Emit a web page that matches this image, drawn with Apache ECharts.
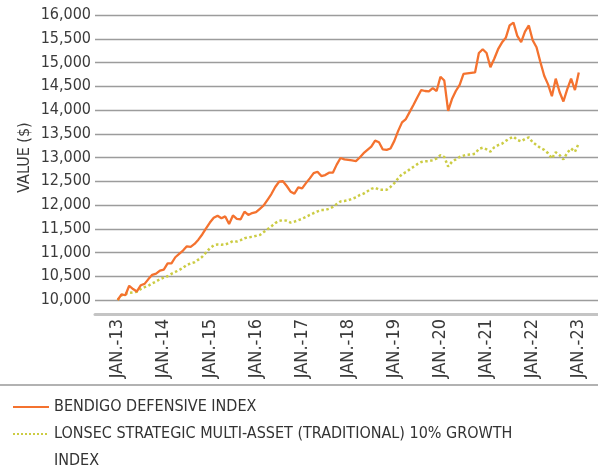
<!DOCTYPE html>
<html>
<head>
<meta charset="utf-8">
<script src="https://cdn.jsdelivr.net/npm/echarts@6/dist/echarts.min.js"></script>
<style>
  html, body { margin: 0; padding: 0; background: #fff; }
  #main { width: 598px; height: 470px; }
</style>
</head>
<body>
<div id="main"></div>
<script>
// monthly values, Jan 2013 .. Jan 2023 (index 0..120)
var bendigo = [
  10000, 10120, 10100, 10300, 10230, 10180, 10310, 10340, 10440, 10530, 10555, 10620,
  10640, 10770, 10770, 10900, 10970, 11040, 11130, 11120, 11180, 11270, 11380, 11510,
  11630, 11730, 11775, 11720, 11760, 11600, 11780, 11710, 11700, 11860, 11790, 11830,
  11850, 11920, 11990, 12110, 12230, 12380, 12490, 12500, 12400, 12280, 12240, 12370,
  12350, 12460, 12560, 12670, 12700, 12610, 12630, 12680, 12680, 12850, 12990, 12960,
  12950, 12940, 12925, 13000, 13090, 13160, 13230, 13355, 13320, 13170, 13160, 13190,
  13350, 13560, 13740, 13810, 13960, 14110, 14270, 14420, 14400, 14390, 14460, 14400,
  14700, 14620, 13980, 14230, 14400, 14530, 14760, 14770, 14780, 14790, 15200, 15280,
  15200, 14900, 15080, 15280, 15420, 15520, 15780, 15840, 15560, 15430, 15650, 15780,
  15470, 15320, 15010, 14720, 14540, 14290, 14660, 14380, 14180, 14440, 14660, 14420,
  14790
];
var lonsec = [
  10000, 10100, 10130, 10150, 10160, 10175, 10230, 10270, 10300, 10350, 10390, 10440,
  10470, 10500, 10550, 10590, 10630, 10680, 10740, 10770, 10795, 10850, 10910, 11000,
  11090, 11150, 11170, 11165, 11170, 11200, 11240, 11230, 11260, 11300, 11320, 11330,
  11350, 11370, 11430, 11490, 11550, 11620, 11665, 11680, 11670, 11630, 11650, 11680,
  11710, 11750, 11790, 11830, 11865, 11895, 11895, 11920, 11960, 12020, 12075, 12085,
  12100, 12130, 12160, 12210, 12240, 12290, 12340, 12365, 12325, 12320, 12320, 12380,
  12460, 12560, 12650, 12690, 12750, 12805, 12860, 12905, 12920, 12925, 12940, 12980,
  13050, 13010, 12810, 12910, 12960, 13010, 13040, 13060, 13065, 13080, 13180, 13205,
  13170, 13125, 13215, 13260, 13290, 13350, 13400, 13440, 13370, 13340, 13390, 13425,
  13320, 13260, 13200, 13160, 13090, 12980, 13110, 13050, 12960, 13100, 13190, 13120,
  13300
];
var yearTicks = [0, 12, 24, 36, 48, 60, 72, 84, 96, 108, 120];
var yearLabels = ['JAN.-13', 'JAN.-14', 'JAN.-15', 'JAN.-16', 'JAN.-17', 'JAN.-18',
                  'JAN.-19', 'JAN.-20', 'JAN.-21', 'JAN.-22', 'JAN.-23'];
var seriesNames = ['BENDIGO DEFENSIVE INDEX',
                   'LONSEC STRATEGIC MULTI-ASSET (TRADITIONAL) 10% GROWTH INDEX'];

var FONT = '"DejaVu Sans Condensed", "DejaVu Sans", sans-serif';

function pairs(arr) {
  return arr.map(function (v, i) { return [i, v]; });
}

var myChart = echarts.init(document.getElementById('main'));
var option = {
  animation: false,
  textStyle: { fontFamily: FONT },
  grid: { left: 95, right: 0, top: 15, bottom: 170, containLabel: false },
  xAxis: {
    type: 'value',
    min: -5.9,
    max: 125,
    offset: 14,
    axisLine: { show: true, lineStyle: { color: '#c4c4c4', width: 3 } },
    axisTick: { show: false },
    splitLine: { show: false },
    axisLabel: {
      customValues: yearTicks,
      rotate: 90,
      margin: 5,
      fontSize: 18,
      color: '#3a3a3a',
      fontFamily: FONT,
      formatter: function (v) { return yearLabels[yearTicks.indexOf(v)]; }
    }
  },
  yAxis: {
    type: 'value',
    min: 10000,
    max: 16000,
    interval: 500,
    name: 'VALUE ($)',
    nameLocation: 'middle',
    nameGap: 62,
    nameMoveOverlap: false,
    nameTextStyle: { fontSize: 16, color: '#3a3a3a', fontFamily: FONT },
    axisLine: { show: false },
    axisTick: { show: false },
    axisLabel: {
      margin: 4,
      fontSize: 16,
      color: '#3a3a3a',
      fontFamily: FONT,
      formatter: function (v) { return v.toLocaleString('en-US'); }
    },
    splitLine: { lineStyle: { color: '#9c9c9c', width: 1.3 } }
  },
  legend: {
    orient: 'vertical',
    left: 12,
    top: 393.5,
    height: 300,
    padding: 0,
    itemGap: -27,
    itemWidth: 36,
    itemHeight: 14,
    data: seriesNames,
    itemStyle: { opacity: 0 },
    textStyle: { fontSize: 16, lineHeight: 27, color: '#333', fontFamily: FONT },
    formatter: function (name) {
      if (name === seriesNames[1]) {
        return '\nLONSEC STRATEGIC MULTI-ASSET (TRADITIONAL) 10% GROWTH\nINDEX';
      }
      return name;
    }
  },
  graphic: [{
    type: 'line',
    shape: { x1: 0, y1: 385, x2: 598, y2: 385 },
    style: { stroke: '#666', lineWidth: 1.2 }
  }],
  series: [
    {
      name: seriesNames[1],
      type: 'line',
      symbol: 'none',
      data: pairs(lonsec),
      lineStyle: { color: '#cccc44', width: 2.5, type: 'dotted' },
      itemStyle: { color: '#cccc44' }
    },
    {
      name: seriesNames[0],
      type: 'line',
      symbol: 'none',
      data: pairs(bendigo),
      lineStyle: { color: '#f4722f', width: 2.3 },
      itemStyle: { color: '#f4722f' }
    }
  ]
};
myChart.setOption(option);
</script>
</body>
</html>
